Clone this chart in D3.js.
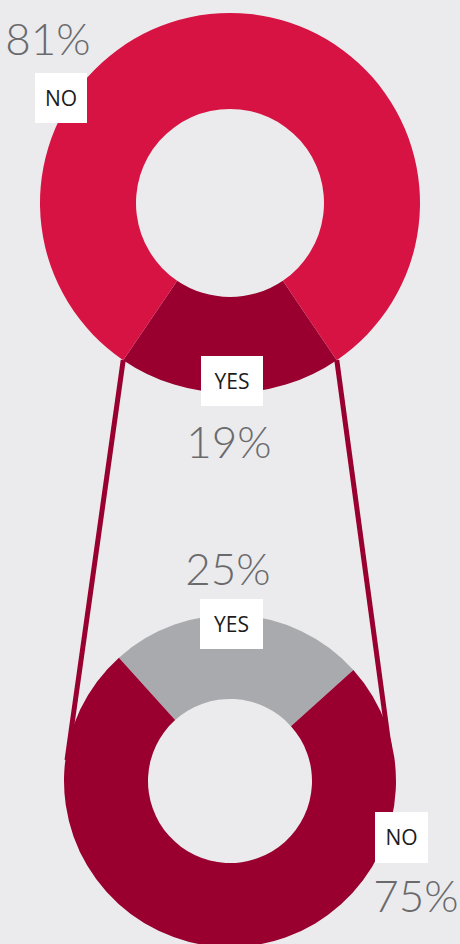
<!DOCTYPE html>
<html>
<head>
<meta charset="utf-8">
<script src="https://cdn.jsdelivr.net/npm/d3@7"></script>
<style>
  html, body { margin: 0; padding: 0; background: #ebebee; }
  svg { display: block; }
</style>
</head>
<body>
<div id="chart"></div>
<script>
// data
const topCategories = ["YES", "NO"];
const topValues = [19, 81];
const bottomCategories = ["YES", "NO"];
const bottomValues = [25, 75];

const width = 460, height = 944;
const colors = {
    topYes: "#990030",
    topNo: "#d71343",
    bottomYes: "#a9aaad",
    bottomNo: "#990030"
};

const svg = d3.select("#chart").append("svg")
    .attr("width", width).attr("height", height)
    .attr("viewBox", `0 0 ${width} ${height}`);

svg.append("rect").attr("width", width).attr("height", height).attr("fill", "#ebebee");

// top donut, YES centred at the bottom
const topC = {x: 230, y: 203, r0: 94, r1: 190};
const topSpan = 2 * Math.PI * topValues[0] / d3.sum(topValues);
const topPie = d3.pie().sort(null)
    .startAngle(Math.PI - topSpan / 2)
    .endAngle(Math.PI - topSpan / 2 + 2 * Math.PI);
const topArc = d3.arc().innerRadius(topC.r0).outerRadius(topC.r1);
const topArcs = topPie(topValues);

svg.append("g").attr("transform", `translate(${topC.x},${topC.y})`)
    .selectAll("path").data(topArcs).enter().append("path")
    .attr("d", topArc)
    .attr("fill", (d, i) => i === 0 ? colors.topYes : colors.topNo);

// bottom donut, YES at the top
const botC = {x: 230, y: 781, r0: 82, r1: 166};
const botSpan = 2 * Math.PI * bottomValues[0] / d3.sum(bottomValues);
const rot = 3 * Math.PI / 180;
const botPie = d3.pie().sort(null)
    .startAngle(-botSpan / 2 + rot)
    .endAngle(-botSpan / 2 + rot + 2 * Math.PI);
const botArc = d3.arc().innerRadius(botC.r0).outerRadius(botC.r1);
const botArcs = botPie(bottomValues);

// connector lines from YES slice corners down to the bottom donut
const yesArc = topArcs[0];
const corner = a => [topC.x + topC.r1 * Math.sin(a), topC.y - topC.r1 * Math.cos(a)];
const leftTop = corner(yesArc.endAngle);
const rightTop = corner(yesArc.startAngle);
const lines = [
    [leftTop, [67, 760]],
    [rightTop, [391, 760]]
];
svg.append("g").selectAll("line").data(lines).enter().append("line")
    .attr("x1", d => d[0][0]).attr("y1", d => d[0][1])
    .attr("x2", d => d[1][0]).attr("y2", d => d[1][1])
    .attr("stroke", colors.topYes).attr("stroke-width", 5);

svg.append("g").attr("transform", `translate(${botC.x},${botC.y})`)
    .selectAll("path").data(botArcs).enter().append("path")
    .attr("d", botArc)
    .attr("fill", (d, i) => i === 0 ? colors.bottomYes : colors.bottomNo);

// labels
const labels = [
    {cat: topCategories[1], val: topValues[1], box: [35, 73, 52, 50], pct: [48, 55]},
    {cat: topCategories[0], val: topValues[0], box: [201, 356, 62, 50], pct: [229, 458]},
    {cat: bottomCategories[0], val: bottomValues[0], box: [200, 599, 63, 50], pct: [228, 585]},
    {cat: bottomCategories[1], val: bottomValues[1], box: [375, 812, 53, 51], pct: [416, 912]}
];

const lg = svg.append("g");
labels.forEach(l => {
    const [bx, by, bw, bh] = l.box;
    lg.append("rect").attr("x", bx).attr("y", by).attr("width", bw).attr("height", bh)
        .attr("fill", "#ffffff");
    lg.append("text").attr("x", bx + bw / 2).attr("y", by + bh / 2 + 7.5)
        .attr("text-anchor", "middle")
        .attr("font-family", "'Open Sans', sans-serif").attr("font-weight", 500)
        .attr("font-size", 21).attr("fill", "#1c1c1c")
        .text(l.cat);
    lg.append("text").attr("x", l.pct[0]).attr("y", l.pct[1])
        .attr("text-anchor", "middle")
        .attr("font-family", "Lato, sans-serif").attr("font-weight", 300)
        .attr("font-size", 44).attr("fill", "#6a6a6c")
        .text(l.val + "%");
});
</script>
</body>
</html>
